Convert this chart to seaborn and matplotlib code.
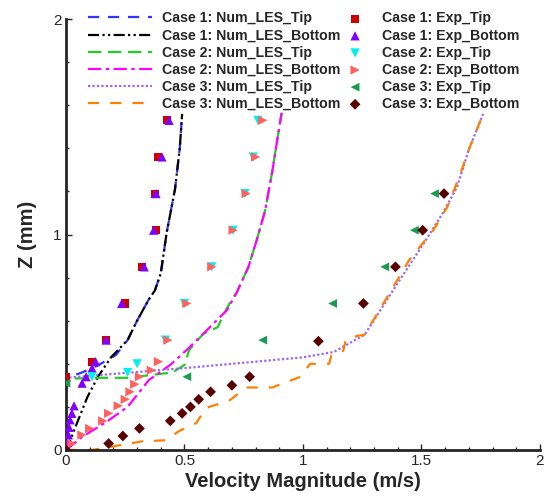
import matplotlib
matplotlib.use('Agg')
import matplotlib.pyplot as plt
from matplotlib.ticker import MultipleLocator
import seaborn as sns

# --- LES profiles: velocity magnitude (m/s) vs Z (mm) ---
c1_num_tip_u = [0.0, 0.0, 0.03, 0.068, 0.13, 0.21, 0.26, 0.30, 0.35, 0.375, 0.40, 0.425, 0.46, 0.48, 0.49]
c1_num_tip_z = [0.0, 0.30, 0.345, 0.36, 0.39, 0.44, 0.51, 0.60, 0.70, 0.74, 0.82, 1.01, 1.21, 1.40, 1.56]

c1_num_bot_u = [0.0, 0.02, 0.04, 0.09, 0.135, 0.19, 0.26, 0.30, 0.35, 0.375, 0.40, 0.425, 0.46, 0.48, 0.49]
c1_num_bot_z = [0.0, 0.05, 0.107, 0.245, 0.34, 0.43, 0.51, 0.60, 0.70, 0.74, 0.82, 1.01, 1.21, 1.40, 1.56]

c2_num_tip_u = [0.0, 0.0, 0.12, 0.26, 0.45, 0.50, 0.52, 0.58, 0.64, 0.67, 0.70, 0.72, 0.77, 0.805, 0.84, 0.87, 0.89, 0.91]
c2_num_tip_z = [0.0, 0.33, 0.335, 0.335, 0.36, 0.395, 0.465, 0.54, 0.57, 0.64, 0.70, 0.73, 0.85, 0.975, 1.11, 1.29, 1.43, 1.565]

c2_num_bot_u = [0.0, 0.067, 0.17, 0.26, 0.35, 0.44, 0.51, 0.58, 0.68, 0.72, 0.77, 0.805, 0.84, 0.87, 0.89, 0.91]
c2_num_bot_z = [0.0, 0.06, 0.13, 0.20, 0.325, 0.395, 0.465, 0.54, 0.65, 0.73, 0.85, 0.975, 1.11, 1.29, 1.43, 1.565]

c3_num_tip_u = [0.0, 0.0, 0.5, 1.0, 1.13, 1.26, 1.40, 1.51, 1.59, 1.65, 1.70, 1.76]
c3_num_tip_z = [0.0, 0.335, 0.38, 0.43, 0.455, 0.535, 0.775, 0.96, 1.10, 1.22, 1.395, 1.56]

c3_num_bot_u = [0.0, 0.11, 0.19, 0.32, 0.42, 0.48, 0.55, 0.59, 0.69, 0.76, 0.87, 0.99, 1.03, 1.11, 1.12,
                1.17, 1.18, 1.23, 1.26, 1.35, 1.45, 1.55, 1.61, 1.66, 1.70, 1.76]
c3_num_bot_z = [0.0, 0.0, 0.015, 0.04, 0.045, 0.09, 0.125, 0.195, 0.23, 0.29, 0.29, 0.34, 0.40, 0.40, 0.44,
                0.46, 0.51, 0.53, 0.535, 0.70, 0.885, 1.02, 1.13, 1.27, 1.395, 1.56]

# --- experimental points ---
c1_exp_tip_u = [0.0, 0.11, 0.17, 0.25, 0.32, 0.38, 0.375, 0.39, 0.426]
c1_exp_tip_z = [0.34, 0.41, 0.51, 0.68, 0.85, 1.02, 1.19, 1.36, 1.53]

c1_exp_bot_u = [0.0, 0.005, 0.01, 0.013, 0.017, 0.025, 0.034, 0.068, 0.085, 0.11, 0.125, 0.17, 0.235,
                0.33, 0.37, 0.38, 0.405, 0.435]
c1_exp_bot_z = [0.0, 0.035, 0.07, 0.105, 0.14, 0.17, 0.205, 0.31, 0.34, 0.38, 0.41, 0.51, 0.68,
                0.85, 1.02, 1.19, 1.36, 1.53]

c2_exp_tip_u = [0.11, 0.26, 0.30, 0.42, 0.50, 0.615, 0.705, 0.755, 0.79, 0.81]
c2_exp_tip_z = [0.34, 0.36, 0.40, 0.51, 0.68, 0.85, 1.02, 1.19, 1.36, 1.53]

c2_exp_bot_u = [0.0, 0.025, 0.067, 0.10, 0.155, 0.18, 0.22, 0.25, 0.27, 0.29, 0.31, 0.36, 0.39, 0.43,
                0.51, 0.615, 0.705, 0.76, 0.80, 0.83]
c2_exp_bot_z = [0.0, 0.03, 0.07, 0.10, 0.135, 0.17, 0.205, 0.235, 0.27, 0.305, 0.34, 0.37, 0.41, 0.51,
                0.68, 0.85, 1.02, 1.19, 1.36, 1.53]

c3_exp_tip_u = [0.0, 0.51, 0.83, 1.125, 1.345, 1.47, 1.555]
c3_exp_tip_z = [0.31, 0.34, 0.51, 0.68, 0.85, 1.02, 1.19]

c3_exp_bot_u = [0.0, 0.18, 0.24, 0.31, 0.44, 0.49, 0.525, 0.56, 0.61, 0.70, 0.775, 1.065, 1.255, 1.39, 1.505, 1.595]
c3_exp_bot_z = [0.0, 0.03, 0.065, 0.10, 0.135, 0.17, 0.20, 0.235, 0.27, 0.30, 0.34, 0.505, 0.68, 0.85, 1.02, 1.19]


sns.set_style('ticks')
plt.rcParams['font.family'] = ['Liberation Sans', 'DejaVu Sans']

fig = plt.figure(figsize=(5.48, 4.97), dpi=100)
ax = fig.add_axes([0.1204, 0.0946, 0.865, 0.867])

lines = [
    (c1_num_tip_u, c1_num_tip_z, '#3333ff', (0, (5, 4)), 'Case 1: Num_LES_Tip'),
    (c1_num_bot_u, c1_num_bot_z, 'black', (0, (5, 1.5, 1, 1.5, 1, 1.5)), 'Case 1: Num_LES_Bottom'),
    (c2_num_tip_u, c2_num_tip_z, '#22cc22', (0, (6, 3)), 'Case 2: Num_LES_Tip'),
    (c2_num_bot_u, c2_num_bot_z, '#ff00ff', (0, (6, 2, 1.5, 2)), 'Case 2: Num_LES_Bottom'),
    (c3_num_tip_u, c3_num_tip_z, '#9966ff', (0, (1, 1)), 'Case 3: Num_LES_Tip'),
    (c3_num_bot_u, c3_num_bot_z, '#ff8000', (0, (5, 5)), 'Case 3: Num_LES_Bottom'),
]
for u, z, col, ls, lab in lines:
    sns.lineplot(x=u, y=z, sort=False, estimator=None, color=col, linestyle=ls,
                 linewidth=1.6, label=lab, ax=ax)

points = [
    (c1_exp_tip_u, c1_exp_tip_z, '#cc0000', 's', 34, 'Case 1: Exp_Tip'),
    (c1_exp_bot_u, c1_exp_bot_z, '#7f00ff', '^', 44, 'Case 1: Exp_Bottom'),
    (c2_exp_tip_u, c2_exp_tip_z, '#00f0f0', 'v', 44, 'Case 2: Exp_Tip'),
    (c2_exp_bot_u, c2_exp_bot_z, '#ff6060', '>', 44, 'Case 2: Exp_Bottom'),
    (c3_exp_tip_u, c3_exp_tip_z, '#1a9c50', '<', 40, 'Case 3: Exp_Tip'),
    (c3_exp_bot_u, c3_exp_bot_z, '#5a0000', 'D', 30, 'Case 3: Exp_Bottom'),
]
for u, z, col, m, s, lab in points:
    sns.scatterplot(x=u, y=z, color=col, marker=m, s=s, edgecolor='none',
                    linewidth=0, label=lab, ax=ax, zorder=3)

ax.set_xlim(0, 2)
ax.set_ylim(0, 2)
ax.xaxis.set_minor_locator(MultipleLocator(0.1))
ax.yaxis.set_minor_locator(MultipleLocator(0.2))
ax.set_xticks([0, 0.5, 1, 1.5, 2])
ax.set_xticklabels(['0', '0.5', '1', '1.5', '2'])
ax.set_yticks([0, 1, 2])
ax.set_yticklabels(['0', '1', '2'])
ax.tick_params(which='both', direction='in', labelsize=11, pad=3, width=1)
ax.tick_params(which='major', length=4)
ax.tick_params(which='minor', length=2)
for side in ['top', 'right']:
    ax.spines[side].set_visible(False)
for side in ['left', 'bottom']:
    ax.spines[side].set_linewidth(2)

ax.set_xlabel('Velocity Magnitude (m/s)', fontsize=14.5, fontweight='bold', labelpad=3)
ax.set_ylabel('Z (mm)', fontsize=14.5, fontweight='bold', labelpad=12)

leg_font = {'size': 10.2, 'weight': 'bold'}
handles, labels = ax.get_legend_handles_labels()
leg1 = ax.legend(handles[:6], labels[:6], loc='upper left', bbox_to_anchor=(0.1606, 0.977),
                 bbox_transform=fig.transFigure, frameon=False, ncol=1,
                 prop=leg_font, handlelength=4.5, handletextpad=0.75,
                 labelspacing=0.22, borderpad=0, borderaxespad=0)
ax.add_artist(leg1)
ax.legend(handles[6:], labels[6:], loc='upper left', bbox_to_anchor=(0.635, 0.977),
          bbox_transform=fig.transFigure, frameon=False, ncol=1,
          prop=leg_font, handlelength=1.0, handletextpad=1.4,
          labelspacing=0.22, borderpad=0, borderaxespad=0)

fig.savefig('out.png', dpi=100, facecolor='white')
